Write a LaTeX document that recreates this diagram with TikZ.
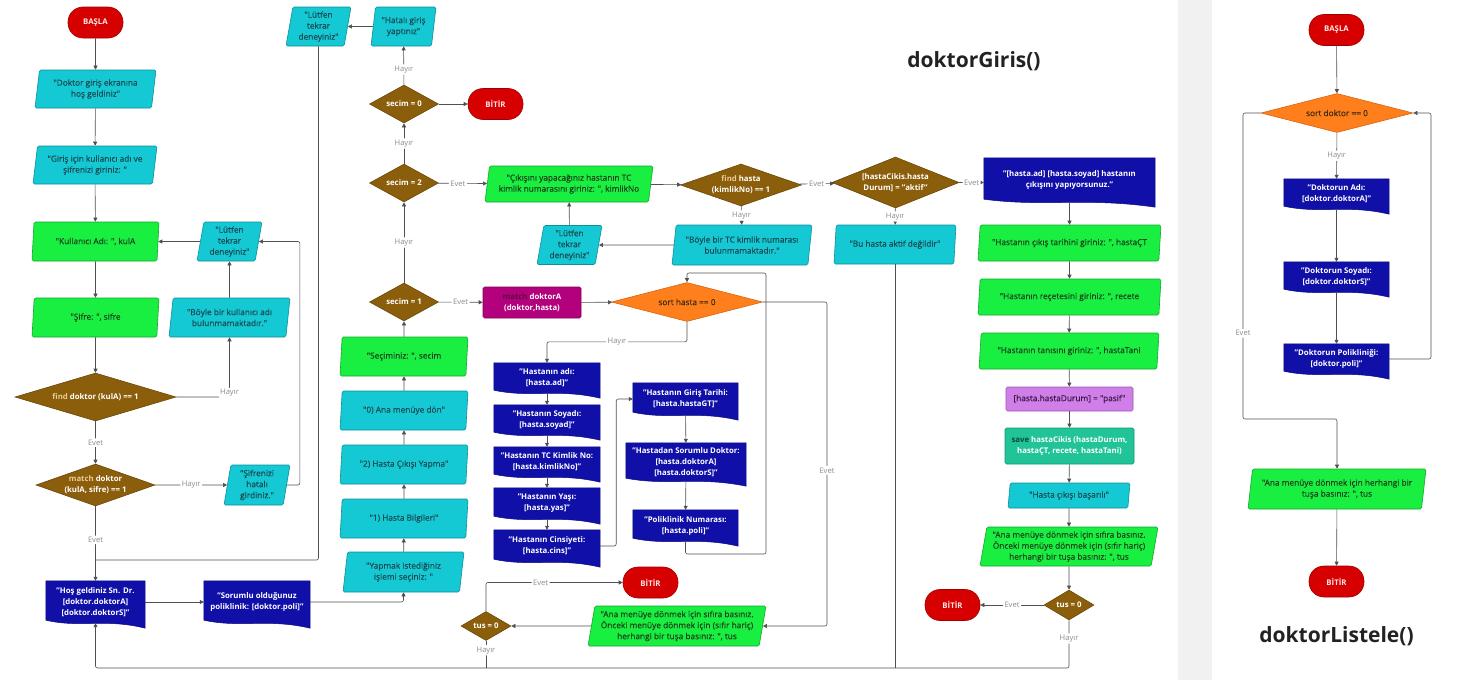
\documentclass[tikz,border=0pt]{standalone}
\usepackage{fontspec}
\setmainfont{Open Sans}
\newfontfamily\nodefont{Open Sans}[FakeBold=0.3]
\usetikzlibrary{shapes.geometric,arrows.meta,calc,backgrounds}

\definecolor{termred}{HTML}{D70000}
\definecolor{termborder}{HTML}{A00000}
\definecolor{termtext}{HTML}{FFE6E6}
\definecolor{cyanF}{HTML}{14C8D4}
\definecolor{cyanD}{HTML}{0E8F99}
\definecolor{cyanT}{HTML}{1A4A52}
\definecolor{greenF}{HTML}{19EF40}
\definecolor{greenD}{HTML}{0FA82C}
\definecolor{greenT}{HTML}{1A421E}
\definecolor{brownF}{HTML}{8B5E0B}
\definecolor{brownD}{HTML}{6B4808}
\definecolor{kwtan}{HTML}{EACB94}
\definecolor{docblue}{HTML}{1010A9}
\definecolor{docborder}{HTML}{0A0A80}
\definecolor{orangeF}{HTML}{FF7F1C}
\definecolor{orangeD}{HTML}{D66510}
\definecolor{orangeT}{HTML}{3D2A0E}
\definecolor{magF}{HTML}{B3007C}
\definecolor{magD}{HTML}{85005C}
\definecolor{magkw}{HTML}{5E0A45}
\definecolor{lilacF}{HTML}{D07FE8}
\definecolor{lilacD}{HTML}{A050B8}
\definecolor{lilacT}{HTML}{3D1A4A}
\definecolor{tealF}{HTML}{20C496}
\definecolor{tealD}{HTML}{16946F}
\definecolor{tealkw}{HTML}{0B4A38}
\definecolor{lineC}{HTML}{505050}
\definecolor{lblC}{HTML}{8C8C8C}
\definecolor{sideGray}{HTML}{F1F1F1}
\definecolor{titleC}{HTML}{222222}

\newcommand\docshape[1]{\filldraw[fill=docblue, draw=docborder, line width=0.5pt]
  (#1.north west) -- (#1.north east) -- ($(#1.south east)+(0,5)$)
  .. controls ($(#1.south west)!0.6!(#1.south east)+(0,-5)$) and ($(#1.south west)!0.35!(#1.south east)+(0,5)$)
  .. ($(#1.south west)+(0,-3)$) -- cycle;}

\tikzset{
  txt/.style={font=\nodefont\fontsize{8.3}{11}\selectfont, align=center, inner sep=1pt},
  boldtxt/.style={font=\bfseries\fontsize{7.8}{11}\selectfont},
  term/.style={txt, boldtxt, rectangle, rounded corners=15pt, fill=termred, draw=termborder,
    line width=0.6pt, minimum width=55pt, minimum height=31pt, text=termtext},
  io/.style={txt, trapezium, trapezium left angle=78, trapezium right angle=102,
    trapezium stretches body, rounded corners=1.5pt, line width=0.6pt, minimum width=#1},
  cio/.style={io=#1, fill=cyanF, draw=cyanD, text=cyanT},
  gio/.style={io=#1, fill=greenF, draw=greenD, text=greenT},
  dec/.style={txt, boldtxt, diamond, inner sep=0pt, fill=brownF, draw=brownD, line width=0.6pt, text=white},
  odec/.style={txt, diamond, inner sep=0pt, fill=orangeF, draw=orangeD, line width=0.6pt, text=orangeT},
  doc/.style={txt, boldtxt, rectangle, minimum width=#1, text=white},
  proc/.style={txt, boldtxt, rectangle, rounded corners=1.5pt, line width=0.6pt},
  conn/.style={draw=lineC, line width=0.6pt, rounded corners=2pt, -{Triangle[width=4pt,length=4pt]}},
  plain/.style={draw=lineC, line width=0.6pt, rounded corners=2pt},
  lbl/.style={font=\fontsize{7.6}{8}\selectfont, text=lblC, fill=white, inner sep=1.5pt},
  title/.style={font=\bfseries\fontsize{21}{25}\selectfont, text=titleC}
}

\begin{document}
\begin{tikzpicture}[x=1pt,y=-1pt]
\useasboundingbox (0,0) rectangle (1470,680);

% ---------------- left column ----------------
\node[term] (basla1) at (95.5,22.5) {BAŞLA};
\node[cio=121pt, minimum height=38pt] (m1) at (95.5,89) {"Doktor giriş ekranına\\hoş geldiniz"};
\node[cio=124pt, minimum height=38pt] (m2) at (95,165) {"Giriş için kullanıcı adı ve\\şifrenizi giriniz: "};
\node[gio=127pt, minimum height=39pt] (kulA) at (95.5,241.5) {"Kullanıcı Adı: ", kulA};
\node[gio=127pt, minimum height=39pt] (sifre) at (95.5,317.5) {"Şifre: ", sifre};
\node[dec, minimum width=161pt, minimum height=48pt, aspect=3.35] (findD) at (95.5,397) {{\color{kwtan}find} doktor (kulA) == 1};
\node[dec, minimum width=119pt, minimum height=42pt, aspect=2.83] (matchD) at (95.5,485) {{\color{kwtan}match} doktor\\(kulA, sifre) == 1};
\node[doc=99pt, minimum height=42pt] (hosg) at (95.5,602) {"Hoş geldiniz Sn. Dr.\\{[}doktor.doktorA{]}\\{[}doktor.doktorS{]}"};
\node[doc=106pt, minimum height=42pt] (sorumlu) at (257,602) {"Sorumlu olduğunuz\\poliklinik: {[}doktor.poli{]}"};

\node[cio=65pt, minimum height=39pt] (ltk1) at (229.5,241.5) {"Lütfen\\tekrar\\deneyiniz"};
\node[cio=121pt, minimum height=39pt] (boyle) at (229.5,317.5) {"Böyle bir kullanıcı adı\\bulunmamaktadır."};
\node[cio=66pt, minimum height=40pt] (sifH) at (257,485) {"Şifrenizi\\hatalı\\girdiniz."};

% ---------------- middle column ----------------
\node[cio=65pt, minimum height=39pt] (ltk2) at (318.5,26.5) {"Lütfen\\tekrar\\deneyiniz"};
\node[cio=65pt, minimum height=39pt] (hatali) at (403.5,26.5) {"Hatalı giriş\\yaptınız"};
\node[dec, minimum width=69pt, minimum height=38pt, aspect=1.82] (s0) at (404,104) {secim = 0};
\node[term] (bitir1) at (495.5,104) {BİTİR};
\node[dec, minimum width=69pt, minimum height=38pt, aspect=1.82] (s2) at (404,183) {secim = 2};
\node[dec, minimum width=69pt, minimum height=38pt, aspect=1.82] (s1) at (404,302) {secim = 1};
\node[proc, fill=magF, draw=magD, text=white, minimum width=98pt, minimum height=31pt] (matchA) at (532,302.5) {{\color{magkw}match} doktorA\\(doktor,hasta)};
\node[gio=128pt, minimum height=39pt] (secimiz) at (404,356.5) {"Seçiminiz: ", secim};
\node[cio=128pt, minimum height=39pt] (amd0) at (404,410.5) {"0) Ana menüye dön"};
\node[cio=128pt, minimum height=39pt] (hc2) at (404,464.5) {"2) Hasta Çıkışı Yapma"};
\node[cio=128pt, minimum height=39pt] (hb1) at (404,518.5) {"1) Hasta Bilgileri"};
\node[cio=121pt, minimum height=40pt] (yapmak) at (403.5,572) {"Yapmak istediğiniz\\işlemi seçiniz: "};

\node[gio=168pt, minimum height=36pt] (cikisini) at (569,184) {"Çıkışını yapacağınız hastanın TC\\kimlik numarasını giriniz: ", kimlikNo};
\node[dec, minimum width=121pt, minimum height=42pt, aspect=2.88] (findH) at (741,185) {{\color{kwtan}find} hasta\\(kimlikNo) == 1};
\node[cio=140pt, minimum height=40pt] (boyleTC) at (742,245) {"Böyle bir TC kimlik numarası\\bulunmamaktadır."};
\node[cio=65pt, minimum height=39pt] (ltk3) at (569.5,245) {"Lütfen\\tekrar\\deneyiniz"};
\node[odec, minimum width=151pt, minimum height=39pt, aspect=3.87] (sortH) at (687,302) {sort hasta == 0};

\node[doc=106pt, minimum height=30pt] (hAd) at (547,378) {"Hastanın adı:\\{[}hasta.ad{]}"};
\node[doc=106pt, minimum height=30pt] (hSoy) at (547,420) {"Hastanın Soyadı:\\{[}hasta.soyad{]}"};
\node[doc=106pt, minimum height=30pt] (hTC) at (547,462) {"Hastanın TC Kimlik No:\\{[}hasta.kimlikNo{]}"};
\node[doc=106pt, minimum height=31pt] (hYas) at (547,503.5) {"Hastanın Yaşı:\\{[}hasta.yas{]}"};
\node[doc=106pt, minimum height=32pt] (hCins) at (547,546) {"Hastanın Cinsiyeti:\\{[}hasta.cins{]}"};
\node[doc=105pt, minimum height=32pt] (hGT) at (685.5,399) {"Hastanın Giriş Tarihi:\\{[}hasta.hastaGT{]}"};
\node[doc=120pt, minimum height=38pt] (hSD) at (686,462) {"Hastadan Sorumlu Doktor:\\{[}hasta.doktorA{]}\\{[}hasta.doktorS{]}"};
\node[doc=105pt, minimum height=31pt] (polN) at (685.5,525.5) {"Poliklinik Numarası:\\{[}hasta.poli{]}"};

\node[term] (bitir2) at (650.5,582.5) {BİTİR};
\node[gio=178pt, minimum height=40pt] (anaM) at (677,626) {"Ana menüye dönmek için sıfıra basınız.\\Önceki menüye dönmek için (sıfır hariç)\\herhangi bir tuşa basınız: ", tus};
\node[dec, minimum width=50pt, minimum height=29pt, aspect=1.72] (tusM) at (486,626) {tus = 0};

% ---------------- right column ----------------
\node[title] (t1) at (974,61) {doktorGiris()};
\node[dec, minimum width=127pt, minimum height=51pt, aspect=2.49] (aktifD) at (895.5,182.5) {{[}hastaCikis.hasta\\Durum{]} = "aktif"};
\node[doc=171pt, minimum height=44pt] (hCk) at (1069.5,180) {"{[}hasta.ad{]} {[}hasta.soyad{]} hastanın\\çıkışını yapıyorsunuz."};
\node[cio=122pt, minimum height=39pt] (buH) at (895,244.5) {"Bu hasta aktif değildir"};
\node[gio=183pt, minimum height=36pt] (cT) at (1069.5,243) {"Hastanın çıkış tarihini giriniz: ", hastaÇT};
\node[gio=183pt, minimum height=36pt] (rec) at (1069.5,297) {"Hastanın reçetesini giriniz: ", recete};
\node[gio=180pt, minimum height=36pt] (tani) at (1069,351) {"Hastanın tanısını giriniz: ", hastaTani};
\node[txt, rectangle, rounded corners=1.5pt, line width=0.6pt, fill=lilacF, draw=lilacD, text=lilacT, minimum width=127pt, minimum height=24pt] (pasif) at (1069.5,399) {{[}hasta.hastaDurum{]} = "pasif"};
\node[proc, fill=tealF, draw=tealD, text=white, minimum width=129pt, minimum height=36pt] (save) at (1069.5,446) {{\color{tealkw}save} hastaCikis (hastaDurum,\\hastaÇT, recete, hastaTani)};
\node[cio=122pt, minimum height=25pt] (basarili) at (1069,495.5) {"Hasta çıkışı başarılı"};
\node[gio=178pt, minimum height=39pt] (ana2) at (1069,546.5) {"Ana menüye dönmek için sıfıra basınız.\\Önceki menüye dönmek için (sıfır hariç)\\herhangi bir tuşa basınız: ", tus};
\node[dec, minimum width=50pt, minimum height=30pt, aspect=1.67] (tus2) at (1069,605) {tus = 0};
\node[term] (bitir3) at (952.5,605) {BİTİR};

% ---------------- doktorListele ----------------
\node[term] (basla2) at (1336.5,30) {BAŞLA};
\node[odec, minimum width=152pt, minimum height=39pt, aspect=3.9] (sortD) at (1337,113) {sort doktor == 0};
\node[doc=105pt, minimum height=30pt] (dAd) at (1336.5,194) {"Doktorun Adı:\\{[}doktor.doktorA{]}"};
\node[doc=105pt, minimum height=30pt] (dSoy) at (1336.5,277) {"Doktorun Soyadı:\\{[}doktor.doktorS{]}"};
\node[doc=105pt, minimum height=30pt] (dPol) at (1336.5,359) {"Doktorun Polikliniği:\\{[}doktor.poli{]}"};
\node[gio=178pt, minimum height=40pt] (ana3) at (1337,489) {"Ana menüye dönmek için herhangi bir\\tuşa basınız: ", tus};
\node[term] (bitir4) at (1336.5,581.5) {BİTİR};
\node[title] (t2) at (1336.5,636) {doktorListele()};

% ---------------- background & document shapes ----------------
\begin{pgfonlayer}{background}
  \fill[white] (0,0) rectangle (1470,680);
  \fill[sideGray] (1178,0) rectangle (1212,680);
  \foreach \n in {hosg,sorumlu,hAd,hSoy,hTC,hYas,hCins,hGT,hSD,polN,hCk,dAd,dSoy,dPol}{\docshape{\n}}
\end{pgfonlayer}

% ---------------- coordinates ----------------
\coordinate (j1) at (95.5,560);
\coordinate (bl) at (95.5,668);
\coordinate (evR) at (827,626);
\coordinate (lpA) at (766,554);
\coordinate (lpB) at (766,273);
\coordinate (rl) at (1431,113);
\coordinate (evL) at (1243,419);

% ---------------- connectors: left ----------------
\draw[conn] (basla1) -- (m1);
\draw[conn] (m1) -- (m2);
\draw[conn] (m2) -- (kulA);
\draw[conn] (kulA) -- (sifre);
\draw[conn] (sifre) -- (findD);
\draw[conn] (findD) -- node[lbl]{Evet} (matchD);
\draw[conn] (findD.east) -| node[lbl,pos=0.5,yshift=4pt]{Hayır} (boyle.south);
\draw[conn] (boyle) -- (ltk1);
\draw[conn] (ltk1) -- (kulA);
\draw[conn] (matchD) -- node[lbl]{Hayır} (sifH);
\draw[conn] (sifH.east) -- ++(13,0) |- (ltk1.east);
\draw[conn] (matchD) -- node[lbl,pos=0.45]{Evet} (hosg);
\draw[plain] (ltk2) |- (j1);
\draw[conn] (hosg) -- (sorumlu);
\draw[conn] (sorumlu.east) -| (yapmak.south);

% ---------------- connectors: middle ----------------
\draw[conn] (yapmak) -- (hb1);
\draw[conn] (hb1) -- (hc2);
\draw[conn] (hc2) -- (amd0);
\draw[conn] (amd0) -- (secimiz);
\draw[conn] (secimiz) -- (s1);
\draw[conn] (s1) -- node[lbl]{Hayır} (s2);
\draw[conn] (s2) -- node[lbl]{Hayır} (s0);
\draw[conn] (s0) -- node[lbl,pos=0.4]{Hayır} (hatali);
\draw[conn] (hatali) -- (ltk2);
\draw[conn] (s0) -- (bitir1);
\draw[conn] (s2) -- node[lbl,pos=0.4]{Evet} (cikisini);
\draw[conn] (s1) -- node[lbl]{Evet} (matchA);
\draw[conn] (matchA) -- (sortH);
\draw[conn] (cikisini) -- (findH);
\draw[conn] (findH) -- node[lbl]{Evet} (aktifD);
\draw[conn] (findH) -- node[lbl]{Hayır} (boyleTC);
\draw[conn] (boyleTC) -- (ltk3);
\draw[conn] (ltk3) -- (cikisini);
\draw[conn] (sortH.south) -- ++(0,20) -| node[lbl,pos=0.25]{Hayır} (hAd.north);
\draw[conn] (sortH.east) -| node[lbl,pos=0.76]{Evet} (evR) -- (anaM.east);
\draw[conn] (hAd) -- (hSoy);
\draw[conn] (hSoy) -- (hTC);
\draw[conn] (hTC) -- (hYas);
\draw[conn] (hYas) -- (hCins);
\draw[conn] (hCins.east) -- ++(16,0) |- (hGT.west);
\draw[conn] (hGT) -- (hSD);
\draw[conn] (hSD) -- (polN);
\draw[conn] (polN.south) |- (lpA) -- (lpB) -| (sortH.north);
\draw[conn] (anaM) -- (tusM);
\draw[conn] (tusM.north) |- node[lbl,pos=0.7]{Evet} (bitir2.west);
\draw[plain] (tusM.south) -- node[lbl,pos=0.35]{Hayır} (tusM.south |- bl);
\draw[plain] (buH.south) -- (buH.south |- bl);
\draw[conn] (tus2.south) -- node[lbl,pos=0.38]{Hayır} (tus2.south |- bl) -- (bl) -- (hosg.south);

% ---------------- connectors: right ----------------
\draw[conn] (aktifD.east) -- node[lbl]{Evet} (aktifD.east -| hCk.west);
\draw[conn] (aktifD) -- node[lbl]{Hayır} (buH);
\draw[conn] (hCk) -- (cT);
\draw[conn] (cT) -- (rec);
\draw[conn] (rec) -- (tani);
\draw[conn] (tani) -- (pasif);
\draw[conn] (pasif) -- (save);
\draw[conn] (save) -- (basarili);
\draw[conn] (basarili) -- (ana2);
\draw[conn] (ana2) -- (tus2);
\draw[conn] (tus2) -- node[lbl]{Evet} (bitir3);

% ---------------- connectors: doktorListele ----------------
\draw[conn] (basla2) -- (sortD);
\draw[conn] (sortD) -- node[lbl]{Hayır} (dAd);
\draw[conn] (dAd) -- (dSoy);
\draw[conn] (dSoy) -- (dPol);
\draw[conn] (dPol.east) -| (rl) -- (sortD.east);
\draw[conn] (sortD.west) -| node[lbl,pos=0.86]{Evet} (evL) -| (ana3.north);
\draw[conn] (ana3) -- (bitir4);
\end{tikzpicture}
\end{document}
